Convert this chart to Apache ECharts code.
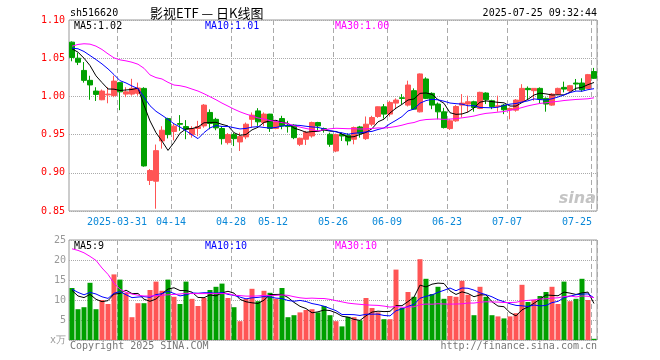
<!DOCTYPE html>
<html><head><meta charset="utf-8">
<script src="https://cdn.jsdelivr.net/npm/echarts@6/dist/echarts.min.js"></script>
<style>html,body{margin:0;padding:0;background:#fff}#c{width:660px;height:360px}</style>
</head><body><div id="c"></div>
<script>
const dates = [
'2025-03-19','2025-03-20','2025-03-21','2025-03-24','2025-03-25','2025-03-26','2025-03-27','2025-03-28','2025-03-31',
'2025-04-01','2025-04-02','2025-04-03','2025-04-07','2025-04-08','2025-04-09','2025-04-10','2025-04-11','2025-04-14',
'2025-04-15','2025-04-16','2025-04-17','2025-04-18','2025-04-21','2025-04-22','2025-04-23','2025-04-24','2025-04-25',
'2025-04-28','2025-04-29','2025-04-30',
'2025-05-06','2025-05-07','2025-05-08','2025-05-09','2025-05-12','2025-05-13','2025-05-14','2025-05-15','2025-05-16',
'2025-05-19','2025-05-20','2025-05-21','2025-05-22','2025-05-23','2025-05-26','2025-05-27','2025-05-28','2025-05-29','2025-05-30',
'2025-06-03','2025-06-04','2025-06-05','2025-06-06','2025-06-09','2025-06-10','2025-06-11','2025-06-12','2025-06-13',
'2025-06-16','2025-06-17','2025-06-18','2025-06-19','2025-06-20','2025-06-23','2025-06-24','2025-06-25','2025-06-26',
'2025-06-27','2025-06-30',
'2025-07-01','2025-07-02','2025-07-03','2025-07-04','2025-07-07','2025-07-08','2025-07-09','2025-07-10','2025-07-11',
'2025-07-14','2025-07-15','2025-07-16','2025-07-17','2025-07-18','2025-07-21','2025-07-22','2025-07-23','2025-07-24','2025-07-25'
];
const opens = [1.071,1.050,1.034,1.021,1.007,0.9956,1.002,1.001,1.018,1.003,
1.003,1.004,1.0105,0.890,0.889,0.9417,0.971,0.954,0.9645,0.9605,
0.950,0.958,0.9614,0.979,0.970,0.958,0.9395,0.950,0.9404,0.947,
0.970,0.981,0.9658,0.9768,0.958,0.971,0.9623,0.9623,0.9373,0.9439,
0.9482,0.9658,0.958,0.9504,0.9285,0.950,0.9491,0.9439,0.960,0.9447,
0.9636,0.9737,0.9864,0.9768,0.9912,0.9982,0.9886,1.0075,0.9798,1.0228,
1.004,0.990,0.9798,0.9579,0.968,0.9886,0.990,0.993,0.9842,1.0044,
0.9943,0.9868,0.9886,0.9825,0.982,0.993,1.0105,1.0075,1.0105,0.9974,
0.9886,1.003,1.0118,1.0075,1.0175,1.0175,1.0105,1.0325];
const closes = [1.051,1.0447,1.021,1.015,1.0026,1.007,1.003,1.020,1.006,1.006,
1.0105,1.011,0.909,0.903,0.929,0.9557,0.950,0.961,0.9635,0.957,
0.958,0.9605,0.9886,0.9645,0.9588,0.9447,0.950,0.9447,0.9474,0.9636,
0.9754,0.9667,0.9768,0.958,0.9667,0.9614,0.9605,0.946,0.9452,0.9526,
0.9658,0.9614,0.9561,0.9373,0.950,0.9482,0.9417,0.9592,0.9517,0.9636,
0.9724,0.9864,0.9768,0.9921,0.9952,0.9974,1.0149,0.9833,1.0294,0.9974,
0.9886,0.9798,0.9592,0.968,0.9868,0.9912,0.993,0.9855,1.0053,0.9956,
0.9868,0.9877,0.9825,0.9842,0.9952,1.0105,1.0088,1.0105,0.9965,0.990,
1.003,1.0105,1.0096,1.014,1.0162,1.0088,1.0285,1.0237];
const highs = [1.072,1.057,1.045,1.027,1.012,1.009,1.012,1.027,1.019,1.012,
1.023,1.018,1.012,0.905,0.937,0.961,0.972,0.964,0.9755,0.969,
0.961,0.968,0.990,0.983,0.972,0.961,0.952,0.9526,0.9526,0.9658,
0.979,0.9846,0.979,0.9772,0.968,0.9746,0.968,0.9636,0.946,0.9548,
0.967,0.9667,0.9592,0.9526,0.9513,0.9526,0.9517,0.9605,0.9614,0.9737,
0.9746,0.9868,0.990,0.9943,0.9974,1.003,1.0206,1.0105,1.030,1.025,
1.0053,0.992,0.985,0.970,0.9886,1.003,1.001,0.9943,1.0061,1.0053,
0.9956,1.001,0.990,0.9855,0.9965,1.016,1.013,1.0105,1.0118,0.9987,
1.0044,1.0114,1.0193,1.015,1.0228,1.0237,1.0294,1.0373];
const lows = [1.046,1.041,1.018,0.9956,0.994,0.995,0.991,0.999,0.982,0.999,
1.001,1.001,0.908,0.884,0.853,0.9316,0.945,0.9425,0.955,0.944,
0.946,0.948,0.959,0.957,0.9557,0.937,0.937,0.935,0.9285,0.944,
0.959,0.9614,0.961,0.9535,0.957,0.957,0.9526,0.944,0.935,0.9364,
0.946,0.9548,0.9526,0.934,0.927,0.9417,0.936,0.9373,0.946,0.943,
0.961,0.972,0.971,0.9737,0.9833,0.990,0.9868,0.9833,0.979,0.9965,
0.9833,0.970,0.958,0.9561,0.9667,0.9724,0.979,0.980,0.9833,0.990,
0.9833,0.980,0.9768,0.970,0.980,0.992,0.9965,0.9943,0.991,0.980,
0.9877,1.002,1.0053,1.0053,1.0075,1.0061,1.0096,1.0228];
const volumes = [13.0,7.7,8.2,14.3,7.7,10.0,9.0,16.4,15.1,11.8,
5.7,9.2,9.2,12.5,14.6,12.3,15.1,10.8,9.0,14.6,
10.3,8.5,10.5,12.5,13.3,14.1,10.5,8.2,4.7,10.3,
12.8,9.7,12.3,11.8,10.3,13.0,5.7,6.2,6.9,7.5,
7.7,6.9,8.5,6.2,4.7,3.4,5.8,5.7,4.9,10.5,
8.0,6.9,5.2,5.2,17.6,8.0,12.0,10.8,20.2,15.3,
11.5,13.3,10.3,11.0,10.8,14.8,11.3,6.2,13.3,10.8,
6.2,5.9,5.4,5.9,6.7,13.8,9.5,10.0,11.0,12.0,
13.3,9.0,14.6,9.7,10.3,15.3,10.0,0.3];
// moving-average values before a full window is available
const ma5Head = [1.0623,1.0579,1.050,1.0404];
const ma10Head = [1.0632,1.0623,1.0588,1.0535,1.0482,1.0425,1.036,1.0285,1.0206];
const ma30Head = [1.0658,1.068,1.0689,1.0684,1.0658,1.0614,1.0557,1.0504,1.0478,1.0465,1.0447,1.0421,1.0368,1.0281,1.0246,1.0228,1.0184,1.0149,1.014,1.0123,1.0096,1.007,1.0035,0.9996,0.9956,0.9912,0.9873,0.9833,0.9798];
const vma5Head = [12.4,11.0,10.6,11.4];
const vma10Head = [12.7,11.9,11.3,11.9,11.5,10.8,10.4,11.7,12.1];
const vma30Head = [22.8,22.4,21.8,20.9,19.9,18.0,16.4,14.2,12.7,11.9,11.5,11.2,11.0,11.0,11.1,11.2,11.3,11.4,11.5,11.7,11.6,11.6,11.6,11.6,11.6,11.6,11.6,11.2,11.1];
const labelDates = ['2025-03-31','2025-04-14','2025-04-28','2025-05-12','2025-05-26','2025-06-09','2025-06-23','2025-07-07','2025-07-25'];
const priceTicks = [0.85,0.90,0.95,1.00,1.05,1.10];
const maTexts = ['MA5:1.02','MA10:1.01','MA30:1.00'];
const vmaTexts = ['MA5:9','MA10:10','MA30:10'];
const code = 'sh516620';
const titleText = '影视ETF — 日K线图';
const timeText = '2025-07-25 09:32:44';

function ma(arr, n, head) {
  return arr.map((v, i) => {
    if (i < n - 1) return head[i];
    let s = 0; for (let k = i - n + 1; k <= i; k++) s += arr[k];
    return +(s / n).toFixed(4);
  });
}
const UP = '#ff5555', DOWN = '#00a000';
const MONO = '"DejaVu Sans Mono", monospace';
const labelSet = new Set(labelDates);
const lastLabel = labelDates[labelDates.length - 1];
const kData = dates.map((d, i) => [opens[i], closes[i], lows[i], highs[i]]);
const volData = volumes.map((v, i) => ({ value: v, itemStyle: { color: closes[i] >= opens[i] ? UP : DOWN } }));

const splitV = { show: true, interval: (i, v) => labelSet.has(v), lineStyle: { color: '#aaa', type: [5, 3], width: 1 } };
const chart = echarts.init(document.getElementById('c'));
const txt = (text, x, y, fill, align, font) => ({ type: 'text', x, y, silent: true, z: 100,
  style: { text, fill, align: align || 'left', verticalAlign: 'middle', font: font || ('10px ' + MONO) } });

chart.setOption({
  animation: false,
  backgroundColor: '#fff',
  grid: [
    { left: 69, top: 20, width: 528, height: 191, show: true, borderColor: '#999', borderWidth: 1, backgroundColor: 'transparent' },
    { left: 69, top: 240, width: 528, height: 100, show: true, borderColor: '#999', borderWidth: 1, backgroundColor: 'transparent' }
  ],
  xAxis: [
    { type: 'category', gridIndex: 0, data: dates, boundaryGap: true,
      axisLine: { show: false }, axisTick: { show: false }, splitLine: splitV,
      axisLabel: { show: true, interval: (i, v) => labelSet.has(v), margin: 6,
        color: '#0a88d8', fontFamily: 'DejaVu Sans Mono', fontSize: 10,
        formatter: v => v === lastLabel ? '{b|' + v.slice(5) + '}' : (v === labelDates[0] ? '{a|' + v + '}' : '{a|' + v.slice(5) + '}'),
        rich: { a: { padding: [0, 6, 0, 0], color: '#0a88d8', fontFamily: 'DejaVu Sans Mono', fontSize: 10 },
                b: { padding: [0, 34, 0, 0], color: '#0a88d8', fontFamily: 'DejaVu Sans Mono', fontSize: 10 } } } },
    { type: 'category', gridIndex: 1, data: dates, boundaryGap: true,
      axisLine: { show: false }, axisTick: { show: false }, splitLine: splitV, axisLabel: { show: false } }
  ],
  yAxis: [
    { type: 'value', gridIndex: 0, min: priceTicks[0], max: priceTicks[priceTicks.length - 1], interval: 0.05,
      axisLine: { show: false }, axisTick: { show: false },
      splitLine: { show: true, lineStyle: { color: '#aaa', type: 'dotted', width: 1 } },
      axisLabel: { margin: 4, color: '#ff0000', fontFamily: 'DejaVu Sans Mono', fontSize: 10, formatter: v => v.toFixed(2) } },
    { type: 'value', gridIndex: 1, min: 0, max: 25, interval: 5,
      axisLine: { show: false }, axisTick: { show: false },
      splitLine: { show: true, lineStyle: { color: '#aaa', type: 'dotted', width: 1 } },
      axisLabel: { margin: 3, color: '#999', fontFamily: 'DejaVu Sans Mono', fontSize: 10, formatter: v => v === 0 ? 'x万' : String(v) } }
  ],
  series: [
    { type: 'candlestick', xAxisIndex: 0, yAxisIndex: 0, data: kData, barWidth: 5,
      itemStyle: { color: UP, color0: DOWN, borderColor: UP, borderColor0: DOWN, borderWidth: 1 } },
    { type: 'line', xAxisIndex: 0, yAxisIndex: 0, data: ma(closes, 5, ma5Head), symbol: 'none', lineStyle: { color: '#000', width: 1 }, z: 5 },
    { type: 'line', xAxisIndex: 0, yAxisIndex: 0, data: ma(closes, 10, ma10Head), symbol: 'none', lineStyle: { color: '#0000ff', width: 1 }, z: 5 },
    { type: 'line', xAxisIndex: 0, yAxisIndex: 0, data: ma(closes, 30, ma30Head), symbol: 'none', lineStyle: { color: '#ff00ff', width: 1 }, z: 5 },
    { type: 'bar', xAxisIndex: 1, yAxisIndex: 1, data: volData, barWidth: 5 },
    { type: 'line', xAxisIndex: 1, yAxisIndex: 1, data: ma(volumes, 5, vma5Head), symbol: 'none', lineStyle: { color: '#000', width: 1 }, z: 5 },
    { type: 'line', xAxisIndex: 1, yAxisIndex: 1, data: ma(volumes, 10, vma10Head), symbol: 'none', lineStyle: { color: '#0000ff', width: 1 }, z: 5 },
    { type: 'line', xAxisIndex: 1, yAxisIndex: 1, data: ma(volumes, 30, vma30Head), symbol: 'none', lineStyle: { color: '#ff00ff', width: 1 }, z: 5 }
  ],
  graphic: [
    txt(code, 70, 13, '#000'),
    txt(titleText, 150, 13, '#000', 'left', '13px "Noto Sans CJK SC", sans-serif'),
    txt(timeText, 597, 13, '#000', 'right'),
    txt(maTexts[0], 74, 26, '#000'),
    txt(maTexts[1], 205, 26, '#0000ff'),
    txt(maTexts[2], 335, 26, '#ff00ff'),
    txt(vmaTexts[0], 74, 246, '#000'),
    txt(vmaTexts[1], 205, 246, '#0000ff'),
    txt(vmaTexts[2], 335, 246, '#ff00ff'),
    txt('sina', 596, 199, '#c4c4c4', 'right', 'italic bold 16px "DejaVu Sans", sans-serif'),
    txt('Copyright 2025 SINA.COM', 70, 346, '#777'),
    txt('http://finance.sina.com.cn', 597, 346, '#777', 'right')
  ]
});
</script></body></html>
